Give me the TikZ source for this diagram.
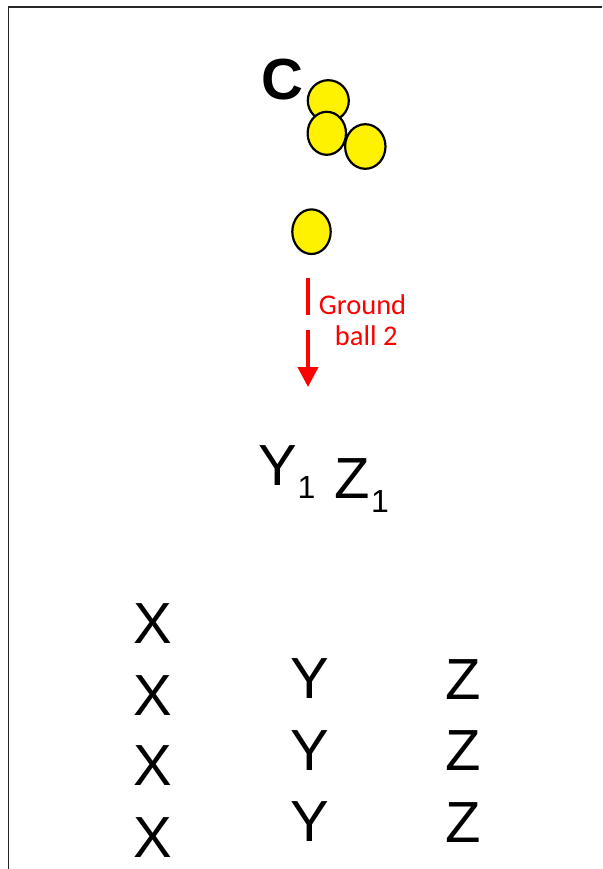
\documentclass[tikz,border=0pt]{standalone}
\usepackage{fontspec}
\setmainfont{Liberation Sans}
\newfontfamily\calfont{Carlito}
\usetikzlibrary{arrows.meta}
\tikzset{
  big/.style={inner sep=0pt, anchor=base, font=\fontsize{58}{58}\selectfont},
  sub/.style={inner sep=0pt, anchor=base, font=\fontsize{32}{32}\selectfont},
  ball/.style={fill=yellow, draw=black, line width=2.2pt},
  lbl/.style={inner sep=0pt, anchor=base, text=red, font=\calfont\fontsize{28.5}{31}\selectfont},
  redline/.style={draw=red, line width=4pt},
  frame/.style={draw=black!85, line width=1.6pt}
}
\begin{document}
\begin{tikzpicture}[x=1pt, y=-1pt]
\useasboundingbox (0,0) rectangle (602,869);
\fill[white] (0,0) rectangle (602,869);
% frame
\draw[frame] (602,6.8) -- (8.6,6.8) -- (8.6,869);
% C and balls
\node[big, font=\fontsize{58}{58}\selectfont\bfseries] (c) at (282.5,100) {C};
\draw[ball] (328.3,100.7) ellipse [x radius=20.5, y radius=20.5];
\draw[ball] (326.8,133.3) ellipse [x radius=19.2, y radius=21.5];
\draw[ball] (365.3,146.5) ellipse [x radius=20.2, y radius=22.3];
\draw[ball] (311.5,231.7) ellipse [x radius=19.2, y radius=22.3];
% arrow
\coordinate (a1) at (308,278);
\coordinate (a2) at (308,315);
\coordinate (a3) at (308,330);
\coordinate (a4) at (308,387);
\draw[redline] (a1) -- (a2);
\draw[redline, -{Triangle[length=20pt, width=20pt]}] (a3) -- (a4);
\node[lbl] (gb1) at (362.5,314) {Ground};
\node[lbl] (gb2) at (366.2,345) {ball 2};
% Y1 Z1
\node[big] (y1) at (277.5,485) {Y};
\node[sub] (y1s) at (306.5,498) {1};
\node[big] (z1) at (352.5,498) {Z};
\node[sub] (z1s) at (380,512) {1};
% columns
\node[big] (x1) at (152.5,643) {X};
\node[big] (x2) at (152.5,715) {X};
\node[big] (x3) at (152.5,785) {X};
\node[big] (x4) at (152.5,857) {X};
\node[big] (ya) at (310,698) {Y};
\node[big] (yb) at (310,770) {Y};
\node[big] (yc) at (310,841) {Y};
\node[big] (za) at (463.5,699) {Z};
\node[big] (zb) at (463.5,770) {Z};
\node[big] (zc) at (463.5,842) {Z};
\end{tikzpicture}
\end{document}
